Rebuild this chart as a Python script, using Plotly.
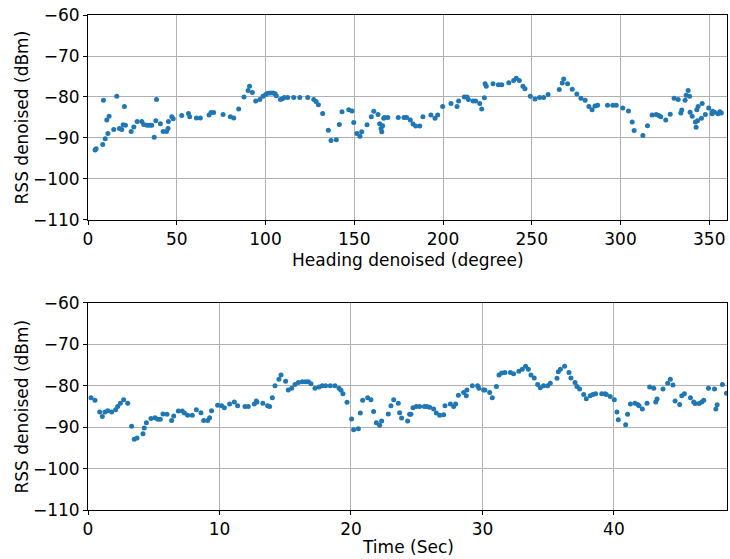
import plotly.graph_objects as go
from plotly.subplots import make_subplots

heading = [4.0, 4.6, 8.3, 8.7, 9.7, 10.6, 11.2, 11.9, 14.5, 16.2, 17.7, 19.0, 19.8, 20.5, 21.1,
           24.3, 25.8, 27.7, 30.3, 31.4, 33.3, 34.8, 35.9, 37.3, 38.2, 38.6, 40.8, 42.3, 44.2,
           45.1, 45.3, 47.2, 48.0, 52.8, 56.6, 57.3, 61.1, 63.3, 68.2, 69.3, 70.8, 76.1, 80.2,
           82.1, 84.9, 87.9, 90.2, 91.0, 92.6, 94.5, 96.8, 98.6, 100.1, 101.3, 102.7, 104.3,
           105.4, 106.1, 108.4, 109.5, 110.6, 112.5, 115.9, 119.3, 123.8, 127.2, 128.5, 129.8,
           132.2, 135.4, 136.9, 139.9, 141.6, 143.1, 146.9, 148.7, 149.7, 151.5, 153.2, 154.2,
           157.2, 159.6, 161.0, 163.4, 164.3, 165.1, 165.5, 166.0, 166.6, 167.0, 168.9, 174.8,
           178.0, 179.5, 181.6, 183.1, 184.6, 186.9, 188.7, 193.2, 195.5, 197.0, 199.8, 204.5,
           207.9, 208.8, 212.0, 213.5, 214.3, 216.9, 218.4, 220.7, 221.8, 223.3, 223.7, 224.4,
           228.2, 231.2, 233.1, 237.1, 239.8, 241.3, 243.0, 245.0, 246.2, 249.2, 251.8, 254.4,
           256.7, 259.2, 265.5, 267.2, 268.0, 270.2, 272.8, 275.4, 277.7, 280.1, 282.2, 284.0,
           285.6, 287.1, 292.7, 295.7, 297.6, 301.3, 304.5, 306.6, 307.7, 312.6, 315.2, 317.8,
           320.1, 321.6, 322.7, 325.5, 328.0, 330.2, 332.5, 334.0, 334.5, 336.4, 337.0, 338.1,
           338.9, 339.2, 340.4, 342.2, 342.6, 343.0, 343.4, 343.7, 345.6, 346.0, 347.8, 349.7,
           351.6, 351.9, 353.0, 354.9, 356.0, 356.8]
rss_heading = [-92.9, -92.6, -91.6, -80.8, -90.2, -85.6, -88.9, -84.7, -87.9, -79.8, -87.7, -87.9,
               -86.8, -82.3, -86.9, -88.4, -87.3, -86.0, -86.0, -86.7, -86.9, -86.9, -86.9, -89.8,
               -85.8, -80.6, -86.5, -88.4, -88.4, -87.7, -86.0, -84.8, -85.3, -84.5, -84.0, -84.8,
               -85.1, -85.1, -84.4, -83.8, -83.8, -84.3, -84.8, -85.1, -82.9, -80.0, -78.4, -77.4,
               -78.9, -81.0, -80.6, -79.8, -79.4, -79.1, -79.0, -79.0, -79.2, -79.7, -80.6, -80.4,
               -80.1, -80.1, -80.1, -80.1, -80.1, -80.6, -81.1, -81.9, -84.0, -88.1, -90.6, -90.4,
               -86.7, -83.6, -83.1, -83.4, -86.2, -88.9, -89.6, -88.5, -86.8, -84.8, -83.5, -84.3,
               -86.5, -87.7, -88.5, -87.0, -85.2, -85.0, -85.0, -85.0, -85.0, -85.0, -85.6, -86.6,
               -87.1, -87.1, -84.8, -84.4, -85.2, -84.4, -82.3, -81.6, -82.3, -81.0, -80.0, -80.0,
               -80.6, -81.0, -81.0, -81.6, -82.9, -80.2, -76.8, -77.4, -76.8, -77.0, -77.0, -76.5,
               -76.0, -75.4, -76.0, -77.4, -78.0, -79.8, -80.5, -80.1, -80.1, -79.4, -78.2, -76.6,
               -75.6, -76.8, -78.1, -79.3, -80.3, -80.8, -82.3, -83.1, -82.2, -82.0, -82.0, -82.0,
               -82.0, -82.7, -83.4, -86.1, -88.2, -89.4, -87.0, -84.4, -84.3, -84.5, -84.8, -85.6,
               -84.2, -80.3, -80.6, -83.9, -83.2, -80.8, -79.6, -78.4, -79.8, -83.7, -84.7, -86.1,
               -87.4, -83.1, -85.8, -82.3, -85.2, -81.6, -84.3, -82.7, -84.1, -83.5, -83.7, -84.1,
               -83.6, -83.9]

time_sec = [0.23, 0.53, 0.89, 1.09, 1.29, 1.5, 1.8, 2.1, 2.26, 2.46, 2.71, 3.02, 3.32, 3.52, 3.73,
            4.18, 4.28, 4.44, 4.79, 5.1, 5.3, 5.5, 5.7, 6.01, 6.36, 6.52, 6.87, 7.17, 7.33, 7.58,
            7.93, 8.24, 8.59, 8.8, 9.1, 9.25, 9.4, 9.86, 10.16, 10.37, 10.77, 11.13, 11.38, 11.94,
            12.19, 12.65, 12.8, 12.85, 13.3, 13.66, 13.81, 14.02, 14.22, 14.52, 14.68, 15.03,
            15.23, 15.49, 15.74, 16.0, 16.3, 16.55, 16.76, 16.96, 17.26, 17.57, 17.81, 18.07,
            18.43, 18.78, 19.09, 19.24, 19.39, 19.7, 20.05, 20.2, 20.56, 20.71, 20.89, 21.27,
            21.52, 21.72, 21.93, 22.18, 22.33, 22.84, 23.04, 23.25, 23.6, 23.7, 23.85, 24.31,
            24.46, 24.56, 24.72, 24.97, 25.22, 25.58, 25.78, 25.98, 26.29, 26.49, 26.75, 27.05,
            27.15, 27.56, 27.81, 27.96, 28.17, 28.57, 28.77, 28.82, 29.23, 29.63, 29.73, 30.09,
            30.19, 30.55, 30.75, 31.06, 31.26, 31.46, 31.71, 32.12, 32.37, 32.77, 33.03, 33.28,
            33.49, 33.69, 33.94, 34.2, 34.4, 34.65, 34.96, 35.16, 35.67, 35.77, 35.93, 36.25,
            36.58, 36.73, 37.04, 37.19, 37.39, 37.7, 37.9, 38.2, 38.4, 38.6, 39.07, 39.32, 39.42,
            39.72, 40.03, 40.23, 40.33, 40.89, 41.04, 41.25, 41.6, 41.81, 41.91, 42.16, 42.52,
            42.72, 43.03, 43.18, 43.28, 43.73, 44.09, 44.29, 44.49, 44.65, 45.0, 45.16, 45.36,
            45.82, 46.07, 46.17, 46.48, 46.68, 46.83, 47.19, 47.65, 47.75, 47.85, 48.25, 48.56]
rss_time = [-82.9, -83.5, -86.3, -87.4, -86.3, -86.0, -86.3, -85.8, -85.0, -84.2, -83.4, -84.2,
            -89.8, -92.9, -92.6, -91.6, -90.2, -88.9, -87.9, -87.7, -88.1, -88.1, -86.8, -86.9,
            -88.4, -87.3, -86.1, -86.1, -86.6, -87.1, -87.1, -85.8, -86.5, -88.4, -88.4, -87.7,
            -86.0, -84.7, -84.8, -85.3, -84.4, -83.9, -84.8, -85.0, -85.0, -84.4, -83.7, -83.9,
            -84.2, -84.8, -85.0, -82.9, -80.0, -78.4, -77.4, -78.9, -81.0, -80.6, -79.7, -79.2,
            -79.0, -79.0, -79.0, -79.5, -80.6, -80.3, -80.0, -80.0, -80.0, -80.0, -80.6, -81.1,
            -81.9, -84.0, -88.0, -90.6, -90.4, -86.6, -83.5, -82.9, -83.4, -86.2, -88.9, -89.5,
            -88.5, -86.8, -84.8, -83.4, -84.2, -86.5, -87.8, -88.5, -86.9, -86.9, -85.3, -85.0,
            -85.0, -85.0, -85.0, -85.2, -85.6, -86.6, -87.1, -87.0, -84.8, -84.4, -85.0, -84.4,
            -82.3, -81.6, -82.4, -81.0, -80.0, -80.0, -80.6, -81.0, -81.0, -81.6, -82.9, -80.2,
            -77.4, -76.9, -76.8, -76.8, -77.1, -76.5, -76.0, -75.3, -76.0, -77.4, -78.1, -79.7,
            -80.5, -80.0, -80.0, -79.4, -78.2, -76.6, -76.0, -75.3, -76.8, -78.1, -79.2, -80.2,
            -80.8, -82.1, -83.1, -82.4, -82.1, -81.9, -81.9, -81.9, -82.1, -82.6, -83.4, -86.3,
            -88.2, -89.4, -86.9, -84.4, -84.2, -84.5, -84.8, -85.6, -84.2, -80.3, -80.6, -83.9,
            -83.2, -80.8, -79.4, -78.4, -79.8, -83.7, -84.5, -82.4, -81.9, -82.9, -83.9, -84.3,
            -84.3, -83.9, -83.5, -80.6, -80.8, -85.6, -84.6, -79.7, -81.8]

heading_ticks = [0, 50, 100, 150, 200, 250, 300, 350]
time_ticks = [0, 10, 20, 30, 40]
rss_ticks = [-60, -70, -80, -90, -100, -110]

BLUE = "#1f77b4"
FONT = "DejaVu Sans"
TFONT = dict(family=FONT, size=17, color="black")

fig = make_subplots(rows=2, cols=1)
fig.add_trace(go.Scatter(x=heading, y=rss_heading, mode="markers",
                         marker=dict(color=BLUE, size=5, line=dict(width=0))), row=1, col=1)
fig.add_trace(go.Scatter(x=time_sec, y=rss_time, mode="markers",
                         marker=dict(color=BLUE, size=5, line=dict(width=0))), row=2, col=1)

axis_common = dict(showline=True, linecolor="black", linewidth=1, mirror=True,
                   ticks="outside", ticklen=4, tickcolor="black", tickwidth=1,
                   showgrid=True, gridcolor="#b0b0b0", gridwidth=1, zeroline=False,
                   automargin=False,
                   tickfont=dict(family=FONT, size=17, color="black"))

fig.update_xaxes(**axis_common)
fig.update_yaxes(**axis_common)

fig.update_xaxes(range=[0, 360], tickvals=heading_ticks, domain=[0, 1], row=1, col=1)
fig.update_xaxes(range=[0, 48.6], tickvals=time_ticks, domain=[0, 1], row=2, col=1)
fig.update_yaxes(range=[-110, -60], tickvals=rss_ticks, domain=[0.5859, 1], row=1, col=1)
fig.update_yaxes(range=[-110, -60], tickvals=rss_ticks, domain=[0, 0.4182], row=2, col=1)

titles = [
    dict(text="Heading denoised (degree)", x=0.5, y=0.506, textangle=0),
    dict(text="Time (Sec)", x=0.5, y=-0.0747, textangle=0),
    dict(text="RSS denoised (dBm)", x=-0.1033, y=0.793, textangle=-90),
    dict(text="RSS denoised (dBm)", x=-0.1033, y=0.209, textangle=-90),
]
for t in titles:
    fig.add_annotation(xref="paper", yref="paper", showarrow=False,
                       xanchor="center", yanchor="middle", font=TFONT, **t)

fig.update_layout(width=730, height=559, autosize=False, showlegend=False,
                  margin=dict(l=88, r=3, t=15, b=49),
                  plot_bgcolor="white", paper_bgcolor="white",
                  font=dict(family=FONT, color="black"))

post = ("document.body.style.margin='0';document.body.style.padding='0';"
        "document.body.style.overflow='hidden';"
        "Plotly.relayout('{plot_id}', {width: 730, height: 559});")

fig.write_html("out.html", config={"responsive": False, "displayModeBar": False},
               post_script=post)
